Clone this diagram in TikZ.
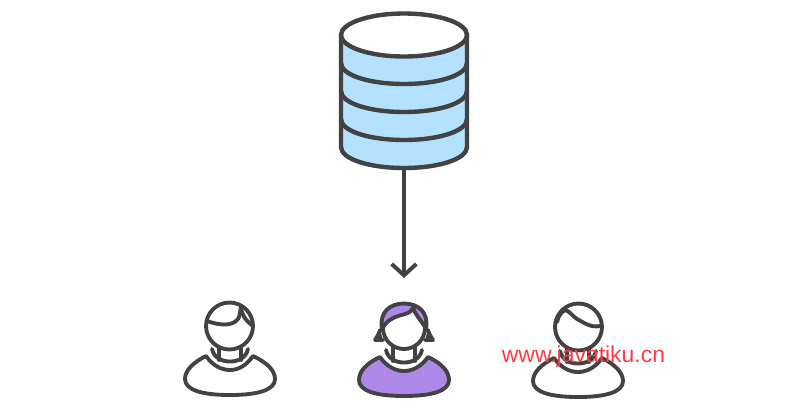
\documentclass[tikz,border=0pt]{standalone}
\usepackage{fontspec}
\setmainfont{Liberation Sans}
\usetikzlibrary{arrows.meta}
\definecolor{darkline}{RGB}{66,66,66}
\definecolor{dbblue}{RGB}{180,225,255}
\definecolor{hairpurple}{RGB}{174,136,232}
\tikzset{every picture/.style={line width=0.75pt}}
\tikzset{
	dbline/.style={color=darkline,line width=3.3pt,line join=round},
	userline/.style={color=darkline,line width=2.9pt,line join=round,line cap=round},
	arrowline/.style={color=darkline,line width=3pt,-{Straight Barb[length=8.5pt,width=18.5pt,line width=3pt]}},
}

\begin{document}
\begin{tikzpicture}[x=0.75pt,y=0.75pt,yscale=-1,xscale=1]
	\useasboundingbox (0,0) rectangle (800,408);
	
	%Database
	\draw [dbline,fill=dbblue]    (341,35) -- (341,147) .. controls (341,159) and (369,168) .. (404,168) .. controls (439,168) and (467,159) .. (467,147) -- (467,35) ;
	\draw [dbline,fill=white]    (404,35) ellipse (63 and 21.5) ;
	\draw [dbline]    (341,63) .. controls (341,75) and (369,84) .. (404,84) .. controls (439,84) and (467,75) .. (467,63) ;
	\draw [dbline]    (341,91) .. controls (341,103) and (369,112) .. (404,112) .. controls (439,112) and (467,103) .. (467,91) ;
	\draw [dbline]    (341,119) .. controls (341,131) and (369,140) .. (404,140) .. controls (439,140) and (467,131) .. (467,119) ;
	
	%Arrow
	\coordinate (dbbottom) at (404,169) ;
	\coordinate (arrowend) at (404,278) ;
	\draw [arrowline]    (dbbottom) -- (arrowend) ;
	
	%Left user
	\draw [userline,fill=white]    (206,356) .. controls (213,366) and (222,370) .. (230,370) .. controls (238,370) and (246,366) .. (253,356) .. controls (266,362) and (275,370) .. (275,379) .. controls (275,390) and (258,395) .. (230,395) .. controls (202,395) and (185,390) .. (185,379) .. controls (185,370) and (194,362) .. (206,356) -- cycle ;
	\draw [userline]    (212,349) .. controls (214,358) and (222,361.5) .. (230,361.5) .. controls (238,361.5) and (246,358) .. (248,349) ;
	\draw [userline]    (219,347) -- (219,360) ;
	\draw [userline]    (241,347) -- (241,360) ;
	\draw [userline,fill=white]    (229.5,326) circle (23.5) ;
	\draw [userline]    (207,321) .. controls (218,325) and (232,327) .. (238,319) .. controls (240,316) and (240,312) .. (241,306) ;
	\draw [userline]    (241,306) .. controls (241,314) and (245,320) .. (253,326) ;
	
	%Middle user
	\draw [userline,fill=hairpurple]    (380,357) .. controls (387,367) and (396,371) .. (404,371) .. controls (412,371) and (421,367) .. (428,357) .. controls (441,363) and (449,371) .. (449,380) .. controls (449,391) and (432,396) .. (404,396) .. controls (376,396) and (359,391) .. (359,380) .. controls (359,371) and (367,363) .. (380,357) -- cycle ;
	\draw [userline]    (386,350) .. controls (388,359) and (396,362.5) .. (404,362.5) .. controls (412,362.5) and (420,359) .. (422,350) ;
	\draw [userline]    (393,348) -- (393,361) ;
	\draw [userline]    (415,348) -- (415,361) ;
	\draw [userline,fill=darkline]    (380,330) .. controls (379,334) and (377,337) .. (375,340) -- (383,340) ;
	\draw [userline,fill=darkline]    (428,330) .. controls (429,334) and (431,337) .. (433,340) -- (425,340) ;
	\draw [userline,fill=white]    (404,328) circle (21) ;
	\draw [userline,fill=hairpurple]    (382,329) .. controls (379,312) and (390,303.5) .. (404,303.5) .. controls (418,303.5) and (429,312) .. (426,329) .. controls (422,321) and (416,316) .. (413,308) .. controls (409,318) and (392,311) .. (382,329) -- cycle ;
	
	%Right user
	\draw [userline,fill=white]    (554,358) .. controls (561,368) and (570,372) .. (578,372) .. controls (586,372) and (595,368) .. (602,358) .. controls (614,364) and (623,372) .. (623,381) .. controls (623,392) and (606,397) .. (578,397) .. controls (550,397) and (533,392) .. (533,381) .. controls (533,372) and (542,364) .. (554,358) -- cycle ;
	\draw [userline]    (560,351) .. controls (562,360) and (570,363.5) .. (578,363.5) .. controls (586,363.5) and (594,360) .. (596,351) ;
	\draw [userline]    (567,349) -- (567,362) ;
	\draw [userline]    (589,349) -- (589,362) ;
	\draw [userline,fill=white]    (578.5,327) circle (23.5) ;
	\draw [userline]    (600,326) .. controls (590,328) and (583,322) .. (577,319) .. controls (572,316) and (570,311) .. (565,310) ;
	\draw [userline]    (565,310) .. controls (561,312) and (558,317) .. (557,322) ;
	
	%Watermark
	\node (watermark) at (583.5,357) [color={rgb, 255:red, 255; green, 60; blue, 70 },font=\fontsize{17.2}{20}\selectfont,inner sep=0pt] {www.javatiku.cn} ;
	
\end{tikzpicture}
\end{document}
